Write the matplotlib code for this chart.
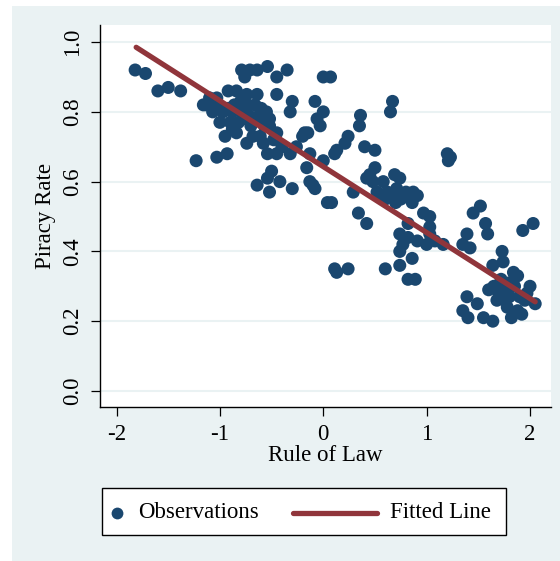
import matplotlib
matplotlib.use("Agg")
import matplotlib.pyplot as plt
from matplotlib.patches import Rectangle
from matplotlib.lines import Line2D
import numpy as np

plt.rcParams['font.family'] = ['Liberation Serif', 'DejaVu Serif']

# Observations: (rule of law, piracy rate)
rule_of_law = [
    -1.82, -1.72, -1.60, -1.50, -1.38, -1.23, -1.03, -0.93,
    -0.79, -0.71, -0.64, -0.54, -0.45, -0.35, -0.76,
    -1.16, -1.10, -1.03, -0.92, -0.84, -0.74, -0.64, -0.45, -0.30, -0.32,
    -0.08, 0.00, -0.06, -0.03, 0.00, 0.07, -0.18,
    -1.13, -1.06, -0.99, -0.92, -0.86, -0.80, -0.73, -0.66, -0.60, -0.55,
    -1.07, -0.97, -0.88, -0.78, -0.72, -0.62, -0.52, -0.78, -0.68, -0.58,
    -0.95, -0.88, -0.84, -0.74, -0.61, -0.52, -0.45, -0.20, -0.15,
    -0.54, -0.45, -0.32, -0.13, 0.00, -0.16,
    -0.64, -0.54, -0.50, -0.42, -0.30, -0.13, -0.08, -0.52, -0.10,
    0.04, 0.08,
    0.67, 0.65, 0.36, 0.35, 0.24, 0.21, 0.13, 0.11, 0.40, 0.50, 0.50,
    1.20, 1.23, 1.21,
    0.42, 0.48, 0.58, 0.69, 0.74, 0.71, 0.87, 0.29,
    0.34, 0.42,
    0.45, 0.52, 0.56, 0.62, 0.68, 0.75, 0.80, 0.85, 0.91, 0.60, 0.70,
    0.86, 0.82, 0.97, 1.03, 1.03,
    0.74, 0.77, 0.91, 1.00, 1.08, 1.16, 1.03, 0.82,
    1.39, 1.35, 1.42,
    0.74, 0.86, 0.74, 0.60,
    0.11, 0.24, 0.13,
    0.82, 0.89,
    1.45, 1.52, 1.57, 1.59, 1.93, 2.03,
    1.73, 1.64, 1.74, 1.84, 1.88,
    1.39, 1.35, 1.40, 1.49, 1.55, 1.64,
    1.65, 1.70, 1.75, 1.80, 1.85, 1.90, 1.95, 2.00, 2.05, 1.68, 1.78,
    1.88, 1.82, 1.92, 1.72, 1.80, 1.97, 1.76, 1.60,
    -1.00, -0.90, -0.82, -0.70, -0.57, -0.48, -0.68, -0.58, -0.40, -0.26,
]
piracy_rate = [
    0.92, 0.91, 0.86, 0.87, 0.86, 0.66, 0.67, 0.68,
    0.92, 0.92, 0.92, 0.93, 0.90, 0.92, 0.90,
    0.82, 0.84, 0.84, 0.86, 0.86, 0.85, 0.85, 0.85, 0.83, 0.80,
    0.83, 0.80, 0.78, 0.76, 0.90, 0.90, 0.74,
    0.82, 0.83, 0.81, 0.81, 0.82, 0.83, 0.82, 0.82, 0.81, 0.80,
    0.80, 0.80, 0.80, 0.80, 0.79, 0.79, 0.78, 0.78, 0.78, 0.78,
    0.73, 0.75, 0.74, 0.71, 0.73, 0.76, 0.74, 0.73, 0.74,
    0.68, 0.68, 0.68, 0.68, 0.66, 0.64,
    0.59, 0.61, 0.63, 0.60, 0.58, 0.60, 0.58, 0.57, 0.59,
    0.54, 0.54,
    0.83, 0.80, 0.79, 0.76, 0.73, 0.71, 0.69, 0.68, 0.70, 0.69, 0.64,
    0.68, 0.67, 0.66,
    0.61, 0.60, 0.60, 0.62, 0.61, 0.58, 0.57, 0.57,
    0.51, 0.48,
    0.62, 0.57, 0.56, 0.57, 0.56, 0.55, 0.57, 0.55, 0.56, 0.55, 0.54,
    0.54, 0.48, 0.51, 0.50, 0.47,
    0.45, 0.42, 0.43, 0.42, 0.43, 0.42, 0.45, 0.44,
    0.45, 0.42, 0.41,
    0.40, 0.38, 0.36, 0.35,
    0.35, 0.35, 0.34,
    0.32, 0.32,
    0.51, 0.53, 0.48, 0.45, 0.46, 0.48,
    0.40, 0.36, 0.37, 0.34, 0.33,
    0.27, 0.23, 0.21, 0.25, 0.21, 0.20,
    0.30, 0.28, 0.29, 0.27, 0.30, 0.27, 0.26, 0.30, 0.25, 0.26, 0.24,
    0.23, 0.21, 0.22, 0.32, 0.31, 0.28, 0.26, 0.29,
    0.77, 0.77, 0.77, 0.76, 0.76, 0.72, 0.73, 0.71, 0.70, 0.70,
]

# Fitted line
fit_x = [-1.81, 2.05]
fit_intercept = 0.643
fit_slope = -0.189

x_ticks = [-2, -1, 0, 1, 2]
x_ticklabels = ['-2', '-1', '0', '1', '2']
y_ticks = [0.0, 0.2, 0.4, 0.6, 0.8, 1.0]
y_ticklabels = ['0.0', '0.2', '0.4', '0.6', '0.8', '1.0']

NAVY = '#1A476F'
MAROON = '#90353B'
BG = '#EAF2F3'
FS = 16.5

W, H = 560, 561
fig = plt.figure(figsize=(W / 100, H / 100), dpi=100, facecolor='white')
fig.add_artist(Rectangle((12 / W, 0), 1 - 12 / W, 1 - 6 / H, transform=fig.transFigure,
                         facecolor=BG, edgecolor='none', zorder=0))

ax = fig.add_axes([100 / W, 1 - 407 / H, (551 - 100) / W, (407 - 25) / H])
ax.set_facecolor('white')
ax.set_zorder(1)

ax.scatter(rule_of_law, piracy_rate, s=88, color=NAVY, edgecolors='none', zorder=3)
fx = np.array(fit_x)
ax.plot(fx, fit_intercept + fit_slope * fx, color=MAROON, lw=3.8, solid_capstyle='round', zorder=4)

ax.set_xlim(-2.16, 2.203)
ax.set_ylim(-0.046, 1.049)
ax.set_xticks(x_ticks)
ax.set_xticklabels(x_ticklabels)
ax.set_yticks(y_ticks)
ax.set_yticklabels(y_ticklabels, rotation=90, va='center')
for y in y_ticks:
    ax.axhline(y, color=BG, lw=1.5, zorder=1)

for s in ['top', 'right']:
    ax.spines[s].set_visible(False)
for s in ['left', 'bottom']:
    ax.spines[s].set_color('black')
    ax.spines[s].set_linewidth(1.0)
ax.tick_params(axis='both', direction='out', length=6.5, width=0.9, color='black',
               labelsize=FS, labelcolor='black', pad=6)
ax.set_xlabel('Rule of Law', fontsize=FS, labelpad=0)
ax.set_ylabel('Piracy Rate', fontsize=FS, labelpad=4)

# Legend (manual, Stata style)
lx0, lx1 = 102 / W, 506 / W
ly0, ly1 = 1 - 535 / H, 1 - 488 / H
fig.add_artist(Rectangle((lx0, ly0), lx1 - lx0, ly1 - ly0, transform=fig.transFigure,
                         facecolor='white', edgecolor='black', lw=1.0, zorder=5))
ymid = 1 - 513 / H
fig.add_artist(Line2D([117 / W], [ymid], transform=fig.transFigure, marker='o', ms=8.5,
                      color=NAVY, markeredgewidth=0, zorder=6))
fig.text(138 / W, ymid, 'Observations', fontsize=FS, va='center', ha='left', zorder=6)
fig.add_artist(Line2D([293 / W, 377 / W], [ymid, ymid], transform=fig.transFigure,
                      color=MAROON, lw=3.8, solid_capstyle='round', zorder=6))
fig.text(390 / W, ymid, 'Fitted Line', fontsize=FS, va='center', ha='left', zorder=6)

fig.savefig('out.png', dpi=100, facecolor='white')
